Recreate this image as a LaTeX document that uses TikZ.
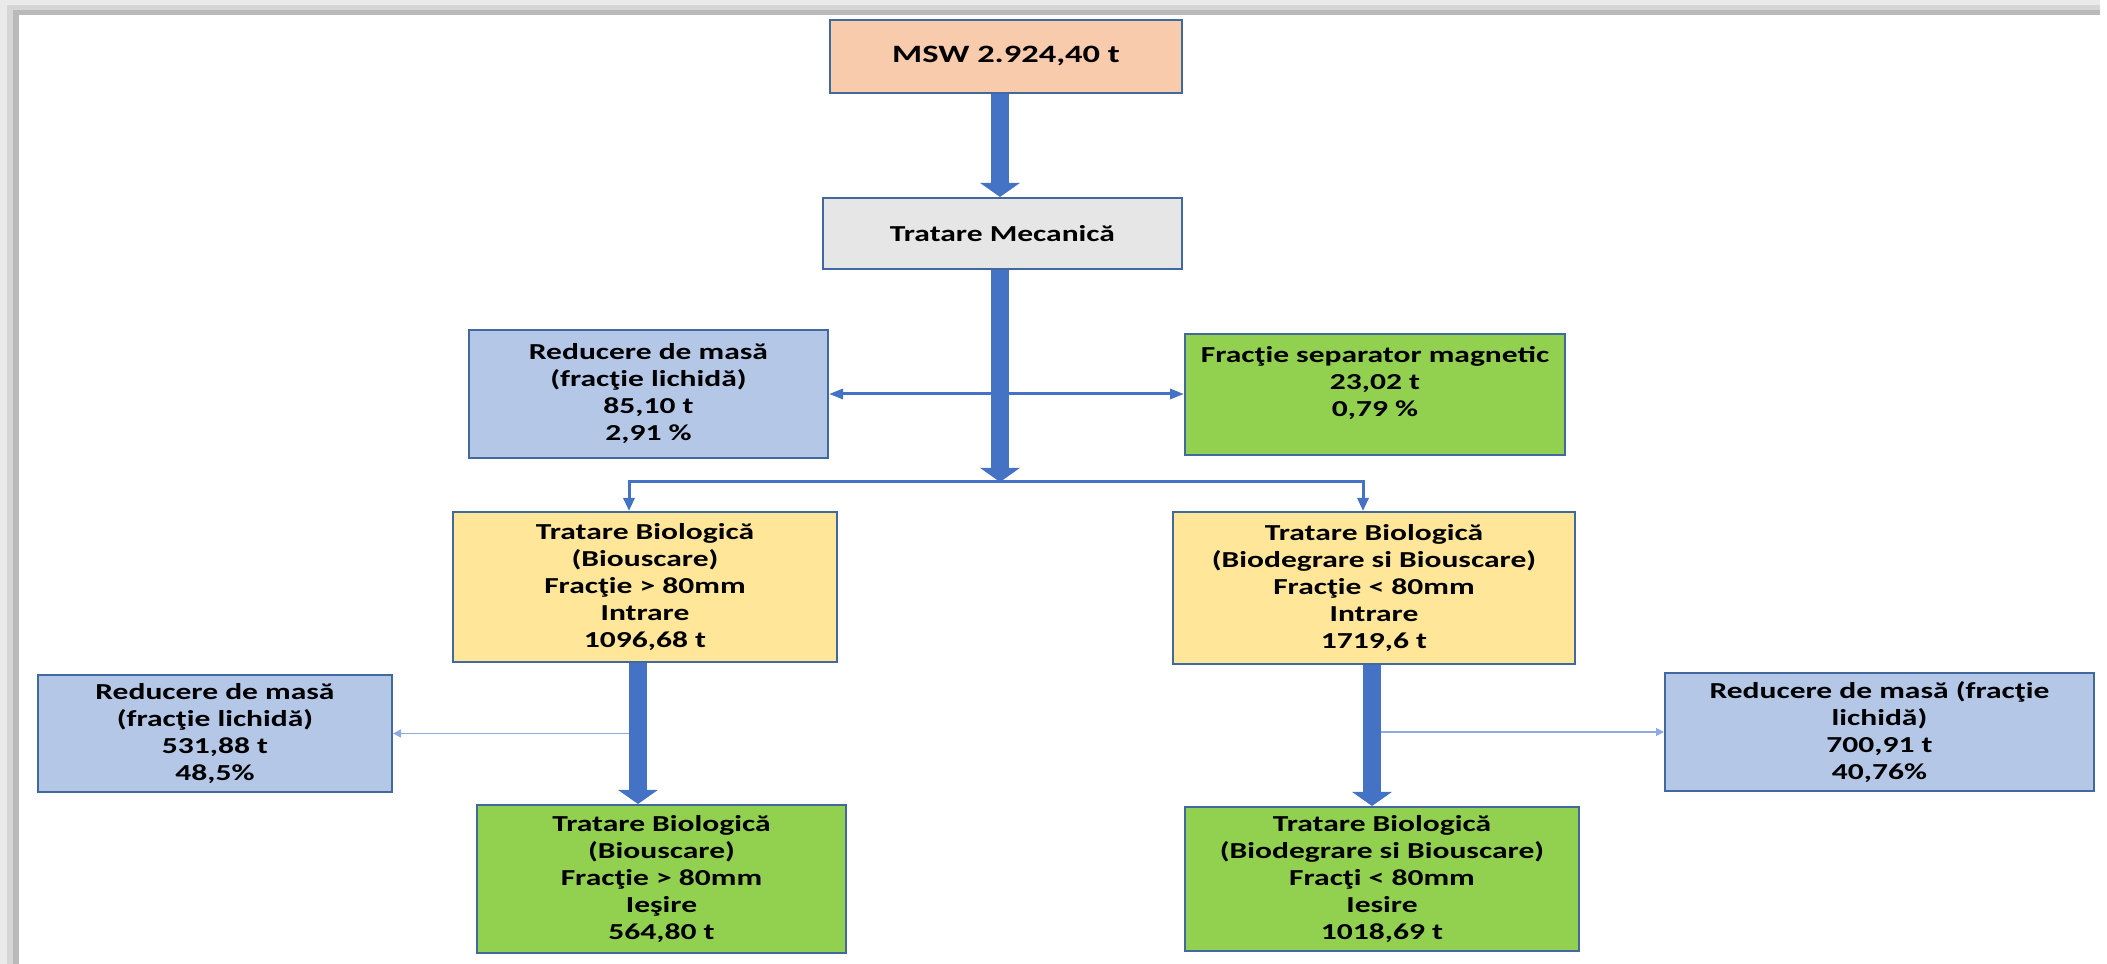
\documentclass[tikz,border=0pt]{standalone}
\usepackage{fontspec}
\setmainfont{Carlito}[FakeStretch=1.38]
\usetikzlibrary{arrows.meta}

\definecolor{peach}{HTML}{F8CBAD}
\definecolor{lightgray}{HTML}{E7E6E6}
\definecolor{paleblue}{HTML}{B4C7E7}
\definecolor{leafgreen}{HTML}{92D050}
\definecolor{paleyellow}{HTML}{FFE699}
\definecolor{boxline}{HTML}{41689F}
\definecolor{flowblue}{HTML}{4472C4}
\definecolor{faintblue}{HTML}{8FAADC}
\definecolor{edgeA}{HTML}{EAEAEA}
\definecolor{edgeB}{HTML}{D6D6D6}
\definecolor{edgeC}{HTML}{B9B9B9}

\begin{document}
\begin{tikzpicture}[x=0.1mm, y=-0.1mm,
	line join=miter,
	every node/.style = {inner sep=0pt, align=center, text=black,
		font=\bfseries\fontsize{6.5}{7.68}\selectfont},
	box/.style = {draw=boxline, line width=0.2mm},
	bigarrow/.style = {draw=flowblue, line width=1.8mm,
		-{Triangle[length=1.4mm,width=3.9mm]}},
	branch/.style = {draw=flowblue, line width=0.3mm,
		-{Triangle[length=1.3mm,width=1.1mm]}},
	faintarrow/.style = {draw=faintblue, line width=0.15mm,
		-{Triangle[length=0.8mm,width=0.8mm]}}
	]
	% shadow of the frame
	\useasboundingbox (0,0) rectangle (2107,964);
	\foreach \c/\a/\b in {edgeA/0/5, edgeB/5/10, edgeC/10/15}
		\fill[\c] (\a,\a) rectangle (2100,\b);
	\foreach \c/\a/\b in {edgeA/0/7, edgeB/7/13, edgeC/13/19}
		\fill[\c] (\a,\a) rectangle (\b,964);

	% boxes
	\node[box, fill=peach, minimum width=35.2mm, minimum height=7.3mm,
		font=\bfseries\fontsize{7.1}{8.5}\selectfont]
		(msw) at (1006,56.5) {MSW 2.924,40 t};
	\node[box, fill=lightgray, minimum width=35.9mm, minimum height=7.1mm]
		(mec) at (1002.5,233.5) {Tratare Mecanică};
	\node[box, fill=paleblue, minimum width=35.9mm, minimum height=12.8mm]
		(red1) at (648.5,394) {Reducere de masă\\(fracţie lichidă)\\85,10 t\\2,91 \%};
	\node[box, fill=leafgreen, minimum width=38mm, minimum height=12.1mm]
		(sep) at (1375,394.5) {Fracţie separator magnetic\\23,02 t\\0,79 \%\\\mbox{}};
	\node[box, fill=paleyellow, minimum width=38.4mm, minimum height=15mm]
		(bio1) at (645,587) {Tratare Biologică\\(Biouscare)\\Fracţie > 80mm\\Intrare\\1096,68 t};
	\node[box, fill=paleyellow, minimum width=40.2mm, minimum height=15.2mm]
		(bio2) at (1374,588) {Tratare Biologică\\(Biodegrare si Biouscare)\\Fracţie < 80mm\\Intrare\\1719,6 t};
	\node[box, fill=paleblue, minimum width=35.4mm, minimum height=11.7mm]
		(red2) at (215,733.5) {Reducere de masă\\(fracţie lichidă)\\531,88 t\\48,5\%};
	\node[box, fill=paleblue, minimum width=42.9mm, minimum height=11.8mm]
		(red3) at (1879.5,732) {Reducere de masă (fracţie\\lichidă)\\700,91 t\\40,76\%};
	\node[box, fill=leafgreen, minimum width=36.9mm, minimum height=14.8mm]
		(out1) at (661.5,879) {Tratare Biologică\\(Biouscare)\\Fracţie > 80mm\\Ieşire\\564,80 t};
	\node[box, fill=leafgreen, minimum width=39.4mm, minimum height=14.4mm]
		(out2) at (1382,879) {Tratare Biologică\\(Biodegrare si Biouscare)\\Fracţi < 80mm\\Iesire\\1018,69 t};

	% connectors
	\coordinate (split) at (1000,482);
	\draw[branch, {Triangle[length=1.4mm,width=1mm]}-{Triangle[length=1.4mm,width=1mm]}]
		(red1.east) -- (red1.east -| sep.west);
	\draw[bigarrow] (msw.south -| split) -- (mec.north -| split);
	\draw[bigarrow] (mec.south -| split) -- (split);
	\draw[branch] (split) -| ([xshift=-1.6mm]bio1.north);
	\draw[branch] (split) -| ([xshift=-1.1mm]bio2.north);
	\draw[faintarrow] (red2.east -| bio1.south) -- (red2.east);
	\draw[faintarrow] (red3.west -| bio2.south) -- (red3.west);
	\draw[bigarrow] ([xshift=-0.7mm]bio1.south) -- ([xshift=-0.7mm]bio1.south |- out1.north);
	\draw[bigarrow] ([xshift=-0.2mm]bio2.south) -- ([xshift=-0.2mm]bio2.south |- out2.north);
\end{tikzpicture}
\end{document}
